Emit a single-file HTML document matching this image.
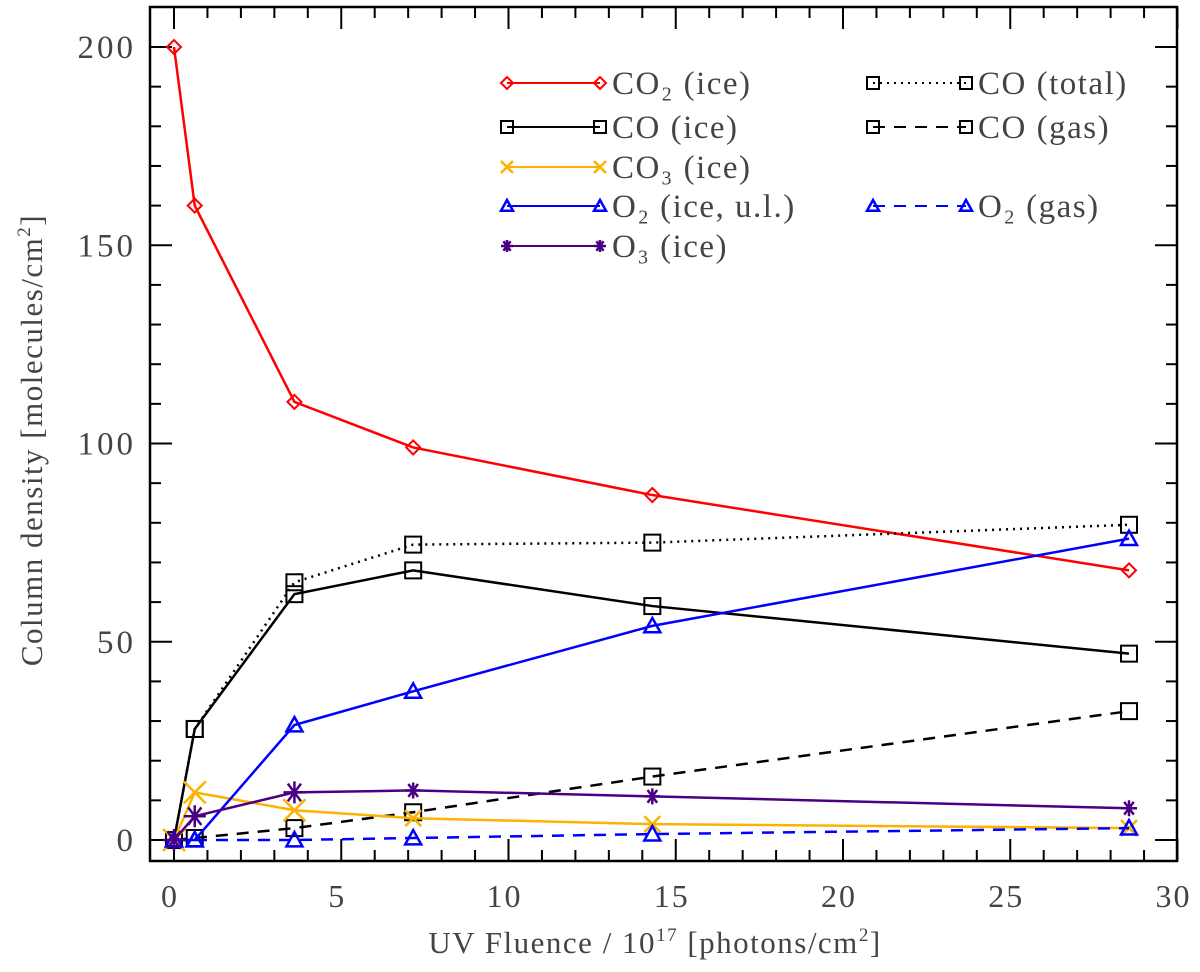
<!DOCTYPE html>
<html><head><meta charset="utf-8"><style>
body{margin:0;background:#fff}
svg text{font-family:"Liberation Serif",serif;fill:#444}
</style></head><body>
<svg id="c" width="1200" height="967" xmlns="http://www.w3.org/2000/svg"></svg>
<script>
const xs=[0,0.62,3.6,7.15,14.3,28.55];
const co2Ice=[200,160,110.5,99,87,68];
const coIce=[0,28,62,68,59,47];
const coTotal=[0,28,65,74.5,75,79.5];
const coGas=[0,0.5,3,7,16,32.5];
const co3Ice=[0,12,7.5,5.5,4,3];
const o2Ice=[0,0,29,37.5,54,76];
const o2Gas=[0,0,0,0.5,1.5,3];
const o3Ice=[0,6,12,12.5,11,8];
const xTicks=[0,5,10,15,20,25,30];
const yTicks=[0,50,100,150,200];
const NS="http://www.w3.org/2000/svg";
const svg=document.getElementById('c');
const L=150,R=1177,T=7,B=861;
const X=v=>174+v*33.45, Y=v=>840-v*3.965;
function el(t,a,p){const e=document.createElementNS(NS,t);for(const k in a)e.setAttribute(k,a[k]);(p||svg).appendChild(e);return e;}
const ax=el('g',{});


el('rect',{x:L,y:T,width:R-L,height:B-T,fill:'none',stroke:'#000','stroke-width':2.5},ax);
for(let v=0;v<=30;v++){const big=v%5==0,l=big?22:11;
el('line',{x1:X(v),x2:X(v),y1:B,y2:B-l,stroke:'#000','stroke-width':2},ax);
el('line',{x1:X(v),x2:X(v),y1:T,y2:T+l,stroke:'#000','stroke-width':2},ax);}
for(let v=0;v<=200;v+=10){const big=v%50==0,l=big?22:11;
el('line',{x1:L,x2:L+l,y1:Y(v),y2:Y(v),stroke:'#000','stroke-width':2},ax);
el('line',{x1:R,x2:R-l,y1:Y(v),y2:Y(v),stroke:'#000','stroke-width':2},ax);}
xTicks.forEach(v=>{const t=el('text',{x:X(v)-4,y:907,'font-size':32,'text-anchor':'middle','letter-spacing':2},ax);t.textContent=v;
});
yTicks.forEach(v=>{const t=el('text',{x:136,y:Y(v)+11,'font-size':33,'text-anchor':'end','letter-spacing':3},ax);t.textContent=v;
});
const xt=el('text',{x:655,y:953,'font-size':31,'text-anchor':'middle','letter-spacing':1.5});
xt.innerHTML='UV Fluence / 10<tspan dy="-12" font-size="19">17</tspan><tspan dy="12"> [photons/cm</tspan><tspan dy="-12" font-size="19">2</tspan><tspan dy="12">]</tspan>';


const yt=el('text',{x:0,y:0,'font-size':31,'text-anchor':'middle','letter-spacing':1.5,transform:'translate(42,440) rotate(-90)'});
yt.innerHTML='Column density [molecules/cm<tspan dy="-12" font-size="19">2</tspan><tspan dy="12">]</tspan>';


function marker(g,type,x,y,c,s){
 if(type=='d')el('path',{d:`M${x-s} ${y}L${x} ${y-s}L${x+s} ${y}L${x} ${y+s}Z`,fill:'none',stroke:c,'stroke-width':2},g);
 else if(type=='s')el('rect',{x:x-s,y:y-s,width:2*s,height:2*s,fill:'none',stroke:c,'stroke-width':2},g);
 else if(type=='x'){el('path',{d:`M${x-s} ${y-s}L${x+s} ${y+s}M${x-s} ${y+s}L${x+s} ${y-s}`,stroke:c,'stroke-width':2.5},g);}
 else if(type=='t')el('path',{d:`M${x} ${y-s}L${x+s} ${y+s*0.8}L${x-s} ${y+s*0.8}Z`,fill:'none',stroke:c,'stroke-width':2.5},g);
 else if(type=='a')el('path',{d:`M${x-s} ${y}L${x+s} ${y}M${x-s*.6} ${y-s*.8}L${x+s*.6} ${y+s*.8}M${x-s*.6} ${y+s*.8}L${x+s*.6} ${y-s*.8}M${x} ${y-s}L${x} ${y+s}`,stroke:c,'stroke-width':2.5},g);
}
const series=[
 ['co2-ice',co2Ice,'#f00','d',null],
 ['co-total',coTotal,'#000','s','2,5'],
 ['co-ice',coIce,'#000','s',null],
 ['co-gas',coGas,'#000','s','12,9'],
 ['co3-ice',co3Ice,'#fbb300','x',null],
 ['o2-ice',o2Ice,'#00f','t',null],
 ['o2-gas',o2Gas,'#00f','t','12,9'],
 ['o3-ice',o3Ice,'#4b0082','a',null]];
series.forEach(([n,d,c,m,da])=>{
 const g=el('g',{});
 
 
 const a={points:xs.map((x,i)=>X(x)+','+Y(d[i])).join(' '),fill:'none',stroke:c,'stroke-width':2.5};
 if(da)a['stroke-dasharray']=da;
 el('polyline',a,g);
 xs.forEach((x,i)=>marker(g,m,X(x),Y(d[i]),c,m=='d'?7:(m=='x'||m=='a')?(i<3?11:8):8));
});
const leg=[['CO₂ (ice)','#f00','d',null,500,83],['CO (ice)','#000','s',null,500,127],['CO₃ (ice)','#fbb300','x',null,500,167],
['O₂ (ice, u.l.)','#00f','t',null,500,206],['O₃ (ice)','#4b0082','a',null,500,246],
['CO (total)','#000','s','2,5',866,83],['CO (gas)','#000','s','12,9',866,127],['O₂ (gas)','#00f','t','12,9',866,206]];
leg.forEach(([lab,c,m,da,x,y])=>{
 const g=el('g',{});
 
 
 const a={x1:x+7,x2:x+100,y1:y,y2:y,stroke:c,'stroke-width':2};if(da)a['stroke-dasharray']=da;
 el('line',a,g);
 marker(g,m,x+7,y,c,6);marker(g,m,x+100,y,c,6);
 const t=el('text',{x:x+112,y:y+11,'font-size':33,'letter-spacing':1.5},g);t.textContent=lab;
});
</script>
</body></html>
